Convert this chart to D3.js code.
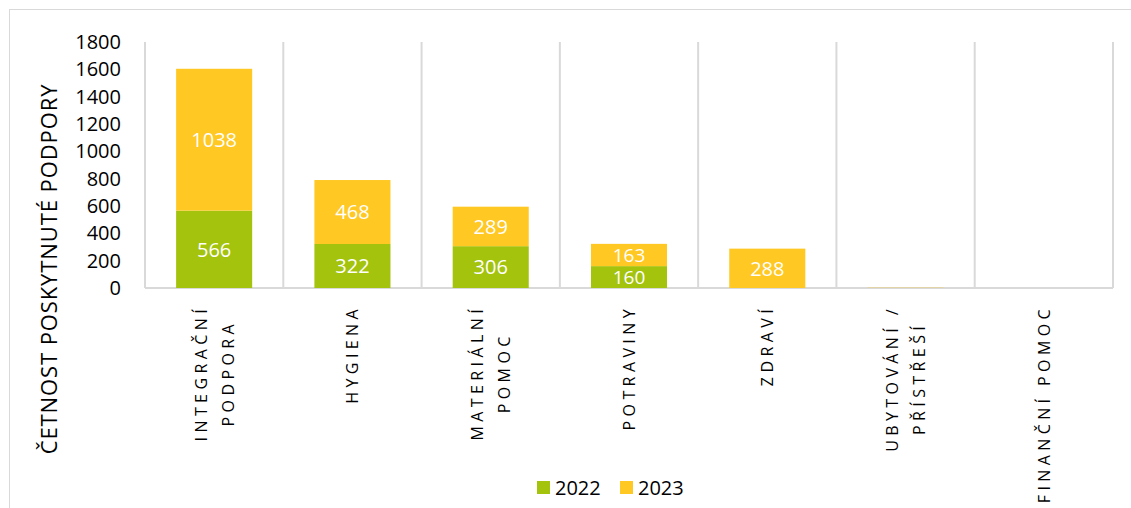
<!DOCTYPE html>
<html>
<head>
<meta charset="utf-8">
<script src="https://cdn.jsdelivr.net/npm/d3@7"></script>
<style>
  body { margin: 0; background: #fff; }
  text { font-family: "Open Sans", sans-serif; }
</style>
</head>
<body>
<svg id="chart" width="1131" height="508"></svg>
<script>
// data
const categories = [
  ["INTEGRAČNÍ", "PODPORA"],
  ["HYGIENA"],
  ["MATERIÁLNÍ", "POMOC"],
  ["POTRAVINY"],
  ["ZDRAVÍ"],
  ["UBYTOVÁNÍ /", "PŘÍSTŘEŠÍ"],
  ["FINANČNÍ POMOC"]
];
const values2022 = [566, 322, 306, 160, 0, 0, 0];
const values2023 = [1038, 468, 289, 163, 288, 2, 0];
const years = ["2022", "2023"];
const colors = ["#a3c30c", "#ffc822"];
const yTicks = [0, 200, 400, 600, 800, 1000, 1200, 1400, 1600, 1800];

const svg = d3.select("#chart");
const margins = { top: 42, left: 145, right: 18, bottom: 220 };
const plotWidth = 1131 - margins.left - margins.right;
const plotHeight = 508 - margins.top - margins.bottom;

// outer frame
svg.append("rect")
  .attr("x", 9.5).attr("y", 9.5)
  .attr("width", 1140).attr("height", 520)
  .attr("fill", "none").attr("stroke", "#d9d9d9");

const chartArea = svg.append("g")
  .attr("transform", "translate(" + margins.left + ", " + margins.top + ")");

const keys = categories.map((c, i) => i);
const xScale = d3.scaleBand().domain(keys).range([0, plotWidth]).paddingInner(0).paddingOuter(0);
const yScale = d3.scaleLinear().domain([0, 1800]).range([plotHeight, 0]);

// vertical grid lines at category boundaries
const bounds = keys.map(k => xScale(k)).concat([plotWidth]);
chartArea.selectAll(".vgrid").data(bounds).enter().append("line")
  .attr("x1", d => d).attr("x2", d => d)
  .attr("y1", 0).attr("y2", plotHeight)
  .attr("stroke", "#d9d9d9").attr("stroke-width", 2);

// bottom axis line
chartArea.append("line")
  .attr("x1", 0).attr("x2", plotWidth)
  .attr("y1", plotHeight).attr("y2", plotHeight)
  .attr("stroke", "#d9d9d9").attr("stroke-width", 2);

// y axis
const yAxis = d3.axisLeft(yScale).tickValues(yTicks).tickFormat(d3.format("d"))
  .tickSize(0).tickPadding(24);
const yG = chartArea.append("g").call(yAxis);
yG.select(".domain").remove();
yG.selectAll("text").attr("font-size", 20).attr("fill", "#000")
  .attr("font-family", "Open Sans");

// stacked bars
const rows = keys.map(i => ({ i: i, "2022": values2022[i], "2023": values2023[i] }));
const stacked = d3.stack().keys(years)(rows);
const barWidth = xScale.bandwidth() * 0.55;

stacked.forEach(function (layer, li) {
  layer.forEach(function (d, i) {
    const h = yScale(d[0]) - yScale(d[1]);
    if (h <= 0) return;
    chartArea.append("rect")
      .attr("x", xScale(i) + (xScale.bandwidth() - barWidth) / 2)
      .attr("y", yScale(d[1]))
      .attr("width", barWidth)
      .attr("height", h)
      .attr("fill", colors[li]);
    const v = d[1] - d[0];
    if (v >= 100) {
      chartArea.append("text")
        .attr("x", xScale(i) + xScale.bandwidth() / 2)
        .attr("y", (yScale(d[0]) + yScale(d[1])) / 2)
        .attr("dy", "0.36em")
        .attr("text-anchor", "middle")
        .attr("font-size", h < 30 ? 19 : 20)
        .attr("fill", "#fff")
        .text(v);
    }
  });
});

// category labels, rotated, top aligned under the axis
const labelTop = plotHeight + 17;
const lineGap = 27;
categories.forEach(function (lines, i) {
  const cx = xScale(i) + xScale.bandwidth() / 2;
  const g = chartArea.append("g");
  const texts = lines.map(function (line, li) {
    return g.append("text")
      .attr("font-size", 16)
      .attr("letter-spacing", 4.4)
      .attr("fill", "#000")
      .attr("text-anchor", "middle")
      .text(line);
  });
  const maxLen = d3.max(texts, t => t.node().getComputedTextLength());
  texts.forEach(function (t, li) {
    const x = cx + (li - (lines.length - 1) / 2) * lineGap;
    const y = labelTop + maxLen / 2;
    t.attr("transform", "translate(" + (x + 6) + "," + y + ") rotate(-90)");
  });
});

// y axis title
svg.append("text")
  .attr("transform", "translate(57, 269) rotate(-90)")
  .attr("text-anchor", "middle")
  .attr("font-size", 22)
  .attr("letter-spacing", 0.9)
  .attr("fill", "#000")
  .text("ČETNOST POSKYTNUTÉ PODPORY");

// legend
const legend = svg.append("g").attr("transform", "translate(537, 481)");
years.forEach(function (y, i) {
  const lg = legend.append("g").attr("transform", "translate(" + (i * 83) + ",0)");
  lg.append("rect").attr("width", 13).attr("height", 13).attr("fill", colors[i]);
  lg.append("text").attr("x", 18).attr("y", 7).attr("dy", "0.36em")
    .attr("font-size", 20).attr("fill", "#000").text(y);
});
</script>
</body>
</html>
